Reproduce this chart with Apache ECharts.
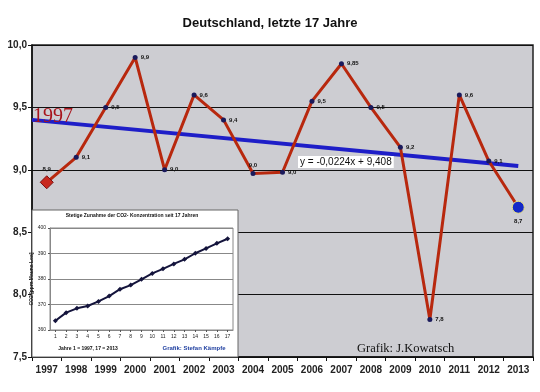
<!DOCTYPE html>
<html>
<head>
<meta charset="utf-8">
<script src="https://cdn.jsdelivr.net/npm/echarts@6/dist/echarts.min.js"></script>
<style>html,body{margin:0;padding:0;background:#fff}#c{width:540px;height:392px}</style>
</head>
<body>
<div id="c"></div>
<script>
// ---- data ----
var years = ['1997','1998','1999','2000','2001','2002','2003','2004','2005','2006','2007','2008','2009','2010','2011','2012','2013'];
var temps = [8.9, 9.1, 9.5, 9.9, 9.0, 9.6, 9.4, 8.97, 8.98, 9.55, 9.85, 9.5, 9.18, 7.8, 9.6, 9.07, 8.7];
var tempLabels = ['8,9','9,1','9,5','9,9','9,0','9,6','9,4','9,0','9,0','9,5','9,85','9,5','9,2','7,8','9,6','9,1','8,7'];
var labelPos = ['top','right','right','right','right','right','right','top','right','right','right','right','right','right','right','right','bottom'];
var trendX = [0.5, 17];
var trendY = [9.40, 9.03];
var yTicks = [7.5, 10.0, 0.5]; // min, max, interval
var co2Years = ['1','2','3','4','5','6','7','8','9','10','11','12','13','14','15','16','17'];
var co2 = [363.6, 366.8, 368.5, 369.4, 371.2, 373.3, 376.0, 377.6, 379.9, 382.2, 384.0, 385.9, 387.7, 390.1, 392.0, 394.0, 395.8];

var chart = echarts.init(document.getElementById('c'), null, {renderer: 'canvas'});

var mainData = temps.map(function (v, i) {
  var d = {value: v, label: {show: true, position: labelPos[i], formatter: tempLabels[i], distance: 3}};
  if (i === 0) {
    d.symbol = 'diamond'; d.symbolSize = 13;
    d.itemStyle = {color: '#c8281e', borderColor: '#7a1010', borderWidth: 1};
  } else if (i === temps.length - 1) {
    d.symbol = 'circle'; d.symbolSize = 12;
    d.itemStyle = {color: '#1428c8', borderColor: '#e8e080', borderWidth: 1};
    d.label.distance = 5;
  }
  return d;
});

var option = {
  backgroundColor: '#ffffff',
  animation: false,
  title: {
    text: 'Deutschland, letzte 17 Jahre',
    left: 'center', top: 12,
    textStyle: {fontFamily: 'Liberation Sans, Arial', fontWeight: 'bold', fontSize: 13, color: '#111'}
  },
  grid: [
    {left: 32, top: 45, width: 501, height: 312, show: true, backgroundColor: '#cdcdd2', borderColor: '#222', borderWidth: 1.5},
    {left: 50, top: 228, width: 183, height: 102, show: true, backgroundColor: 'transparent', borderColor: '#888', borderWidth: 1, z: 10}
  ],
  xAxis: [
    {
      type: 'category', data: years, gridIndex: 0, boundaryGap: true,
      axisLine: {lineStyle: {color: '#111', width: 1.5}},
      axisTick: {show: true, length: 4, lineStyle: {color: '#111'}},
      axisLabel: {fontFamily: 'Liberation Sans, Arial', fontWeight: 'bold', fontSize: 10, color: '#222', margin: 8}
    },
    {
      type: 'value', gridIndex: 0, min: 0.5, max: 17.5, show: false
    },
    {
      type: 'category', data: co2Years, gridIndex: 1, boundaryGap: true, z: 10,
      axisLine: {lineStyle: {color: '#888', width: 1}},
      axisTick: {show: true, length: 2, alignWithLabel: true, lineStyle: {color: '#555'}},
      axisLabel: {fontFamily: 'Liberation Sans, Arial', fontSize: 5, color: '#222', margin: 4}
    }
  ],
  yAxis: [
    {
      type: 'value', gridIndex: 0, min: yTicks[0], max: yTicks[1], interval: yTicks[2],
      axisLine: {show: true, lineStyle: {color: '#111', width: 1.5}},
      axisTick: {show: true, length: 4, lineStyle: {color: '#111'}},
      splitLine: {show: true, lineStyle: {color: '#111', width: 1.2}},
      axisLabel: {fontFamily: 'Liberation Sans, Arial', fontWeight: 'bold', fontSize: 10, color: '#222', margin: 5,
        formatter: function (v) { return v.toFixed(1).replace('.', ','); }}
    },
    {
      type: 'value', gridIndex: 1, min: 360, max: 400, interval: 10, z: 10,
      name: 'CO2 [ppm Mauna Loa]', nameLocation: 'middle', nameRotate: 90, nameGap: 13,
      nameTextStyle: {fontFamily: 'Liberation Sans, Arial', fontWeight: 'bold', fontSize: 5, color: '#222'},
      axisLine: {show: true, lineStyle: {color: '#888'}},
      axisTick: {show: true, length: 2, lineStyle: {color: '#555'}},
      splitLine: {show: true, lineStyle: {color: '#888', width: 1}},
      axisLabel: {fontFamily: 'Liberation Sans, Arial', fontSize: 5, color: '#222', margin: 4}
    }
  ],
  series: [
    {
      type: 'line', xAxisIndex: 1, yAxisIndex: 0, z: 3,
      data: trendX.map(function (x, i) { return [x, trendY[i]]; }),
      symbol: 'none', lineStyle: {color: '#1e1ec8', width: 4}, silent: true
    },
    {
      type: 'line', xAxisIndex: 0, yAxisIndex: 0, z: 4,
      data: mainData,
      symbol: 'circle', symbolSize: 5,
      itemStyle: {color: '#1a1a5c'},
      lineStyle: {color: '#b8280e', width: 3},
      label: {show: true, fontFamily: 'Liberation Sans, Arial', fontWeight: 'bold', fontSize: 6, color: '#111'}
    },
    {
      type: 'line', xAxisIndex: 2, yAxisIndex: 1, z: 12,
      data: co2,
      symbol: 'diamond', symbolSize: 5,
      itemStyle: {color: '#14143c'},
      lineStyle: {color: '#14143c', width: 2}
    }
  ],
  graphic: [
    {type: 'rect', z: 5, shape: {x: 32, y: 210, width: 206, height: 147},
      style: {fill: '#ffffff', stroke: '#666', lineWidth: 1}},
    {type: 'text', z: 20, x: 132, y: 213,
      style: {text: 'Stetige Zunahme der CO2- Konzentration seit 17 Jahren', textAlign: 'center',
        font: 'bold 5px "Liberation Sans Narrow", "Liberation Sans", Arial', fill: '#111'}},
    {type: 'text', z: 20, x: 88, y: 346,
      style: {text: 'Jahre 1 = 1997, 17 = 2013', textAlign: 'center',
        font: 'bold 5px "Liberation Sans Narrow", "Liberation Sans", Arial', fill: '#111'}},
    {type: 'text', z: 20, x: 194, y: 345,
      style: {text: 'Grafik: Stefan Kämpfe', textAlign: 'center',
        font: 'bold 6px "Liberation Sans", Arial', fill: '#1f3fa0'}},
    {type: 'text', z: 20, x: 33, y: 107,
      style: {text: '1997', font: '20px "Liberation Serif", "Times New Roman", serif', fill: '#a8141c'}},
    {type: 'text', z: 20, x: 357, y: 342,
      style: {text: 'Grafik: J.Kowatsch', font: '12.5px "Liberation Serif", "Times New Roman", serif', fill: '#111'}},
    {type: 'text', z: 20, x: 298, y: 156,
      style: {text: 'y = -0,0224x + 9,408', font: '10px "Liberation Sans", Arial', fill: '#111',
        backgroundColor: '#ffffff', padding: [1, 2, 1, 2]}}
  ]
};
chart.setOption(option);
</script>
</body>
</html>
